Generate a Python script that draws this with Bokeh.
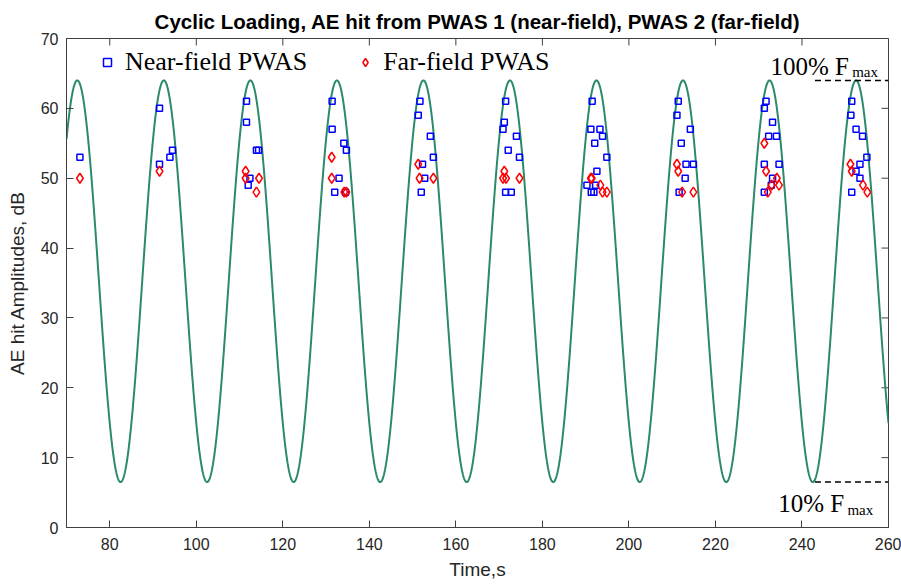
import numpy as np
from bokeh.plotting import figure
from bokeh.models import Range1d, FixedTicker, Legend, LegendItem
from bokeh.core.properties import value
from bokeh.embed import file_html
from bokeh.resources import INLINE

TITLE = "Cyclic Loading, AE hit from PWAS 1 (near-field), PWAS 2 (far-field)"
X_LABEL = "Time,s"
Y_LABEL = "AE hit Amplitudes, dB"
X_TICKS = [80, 100, 120, 140, 160, 180, 200, 220, 240, 260]
Y_TICKS = [0, 10, 20, 30, 40, 50, 60, 70]

# Near-field PWAS hits (time s, amplitude dB)
near_time = [73.1,
             91.5, 94.5, 93.9, 91.5,
             111.6, 111.6, 113.9, 114.4, 112.4, 112.0,
             131.4, 131.4, 134.1, 134.7, 133.0, 132.0, 134.5,
             151.7, 151.3, 154.1, 154.8, 152.3, 152.8, 152.0,
             171.5, 171.2, 170.9, 174.0, 172.1, 174.7, 171.5, 172.8,
             191.5, 191.2, 193.3, 193.9, 192.1, 194.9, 192.6, 190.3, 192.3, 191.3, 191.9,
             211.4, 211.1, 214.2, 212.1, 213.2, 214.9, 213.0, 211.6,
             231.7, 231.3, 233.2, 232.3, 234.1, 231.3, 234.7, 233.2, 232.9, 231.3,
             251.5, 251.3, 252.5, 254.0, 255.0, 253.4, 252.5, 253.4, 251.5]
near_amp = [53,
            60, 54, 53, 52,
            61, 58, 54, 54, 50, 49,
            61, 57, 55, 54, 50, 48, 48,
            61, 59, 56, 53, 52, 50, 48,
            61, 58, 57, 56, 54, 53, 48, 48,
            61, 57, 57, 56, 55, 53, 51, 49, 49, 48, 48,
            61, 59, 57, 55, 52, 52, 50, 48,
            61, 60, 58, 56, 56, 52, 52, 50, 49, 48,
            61, 59, 57, 56, 53, 52, 51, 50, 48]

# Far-field PWAS hits (time s, amplitude dB)
far_time = [73.1,
            91.5,
            111.4, 111.4, 114.5, 113.9,
            131.3, 131.3, 134.2, 134.7,
            151.3, 151.6, 154.8,
            171.2, 170.9, 171.6, 174.7,
            191.2, 191.4, 193.4, 193.9, 194.9,
            211.1, 211.4, 212.3, 214.9,
            231.3, 231.7, 234.2, 234.7, 233.0, 232.1,
            251.2, 251.5, 254.1, 255.1]
far_amp = [50,
           51,
           51, 50, 50, 48,
           53, 50, 48, 48,
           52, 50, 50,
           51, 50, 50, 50,
           50, 50, 49, 48, 48,
           52, 51, 48, 48,
           55, 51, 50, 49, 49, 48,
           52, 51, 49, 48]

# Cyclic load signal, drawn on the amplitude scale
load_max_db = 64.0
load_min_db = 6.5
load_period_s = 20.0
load_first_peak_s = 72.5
time_start, time_end = 70.0, 260.0
amp_start, amp_end = 0.0, 70.0

# Reference markers (100% / 10% Fmax)
ref_x = [243.0, 260.0]
ref_labels = ["100% F", "10% F"]
ref_sub = ["max", "max"]

t = np.linspace(time_start, time_end, 2000)
mid = (load_max_db + load_min_db) / 2
amp = (load_max_db - load_min_db) / 2
load = mid + amp * np.cos(2 * np.pi * (t - load_first_peak_s) / load_period_s)

AX = "#404040"
TXT = "#262626"

W, H = 901, 584
BL, BR, BT, BB = 66, 13, 38, 57
p = figure(width=W, height=H, output_backend="svg", toolbar_location=None,
           x_range=Range1d(time_start, time_end), y_range=Range1d(amp_start, amp_end),
           min_border_left=BL, min_border_right=BR, min_border_top=BT, min_border_bottom=BB)
p.title.text = TITLE
p.title.align = "center"
p.title.text_font = "Liberation Sans"
p.title.text_font_size = "20.5px"
p.title.text_font_style = "bold"
p.title.text_color = "black"
p.title.standoff = 12
p.grid.visible = False
p.outline_line_color = AX
p.background_fill_color = "white"

TICK = 7
for ax, ticks in ((p.xaxis[0], X_TICKS), (p.yaxis[0], Y_TICKS)):
    ax.ticker = FixedTicker(ticks=ticks)
    ax.major_tick_in = TICK
    ax.major_tick_out = 0
    ax.minor_tick_line_color = None
    ax.axis_line_color = AX
    ax.major_tick_line_color = AX
    ax.major_label_text_font = "Liberation Sans"
    ax.major_label_text_font_size = "16px"
    ax.major_label_text_color = TXT
    ax.axis_label_text_font = "Liberation Sans"
    ax.axis_label_text_font_size = "19px"
    ax.axis_label_text_font_style = "normal"
    ax.axis_label_text_color = TXT
p.xaxis[0].axis_label = X_LABEL
p.yaxis[0].axis_label = Y_LABEL
p.xaxis[0].major_label_standoff = 10
p.xaxis[0].axis_label_standoff = 6
p.yaxis[0].major_label_standoff = 8
p.yaxis[0].axis_label_standoff = 10

# inward ticks on the top and right frame edges (box style)
frame_w = W - BL - BR
frame_h = H - BT - BB
dy = TICK * (amp_end - amp_start) / frame_h
dx = TICK * (time_end - time_start) / frame_w
p.segment(x0=X_TICKS, y0=[amp_end] * len(X_TICKS), x1=X_TICKS, y1=[amp_end - dy] * len(X_TICKS),
          line_color=AX, line_width=1)
p.segment(x0=[time_end] * len(Y_TICKS), y0=Y_TICKS, x1=[time_end - dx] * len(Y_TICKS), y1=Y_TICKS,
          line_color=AX, line_width=1)

p.line(t, load, line_color="#2b8a6c", line_width=2)

r_near = p.scatter(near_time, near_amp, marker="square", size=6, fill_color=None,
                   line_color="#0000ff", line_width=1.5)
r_far = p.scatter(far_time, far_amp, marker="diamond", size=10, fill_color=None,
                  line_color="#ff0000", line_width=1.5)

# dashed reference lines at max and min of the load
p.line(ref_x, [load_max_db, load_max_db], line_color="black", line_width=1.5, line_dash="6 4")
p.line(ref_x, [load_min_db, load_min_db], line_color="black", line_width=1.5, line_dash="6 4")

serif = value("Liberation Serif")
p.text(x=[232.7, 234.5], y=[66.05, 3.45], text=ref_labels, text_font=serif,
       text_font_size="25px", text_color="black", text_baseline="alphabetic", text_align="left")
p.text(x=[251.6, 250.5], y=[65.15, 2.55], text=ref_sub, text_font=serif,
       text_font_size="15px", text_color="black", text_baseline="alphabetic", text_align="left")

legend = Legend(items=[LegendItem(label="Near-field PWAS", renderers=[r_near]),
                       LegendItem(label="Far-field PWAS", renderers=[r_far])],
                location=(31, 450), orientation="horizontal",
                label_text_font="Liberation Serif", label_text_font_size="26px",
                label_text_color="black", glyph_width=20, glyph_height=20,
                label_standoff=8, spacing=48, padding=0, margin=0,
                border_line_color=None, background_fill_alpha=0)
p.add_layout(legend)

open("out.html", "w").write(file_html(p, INLINE))
